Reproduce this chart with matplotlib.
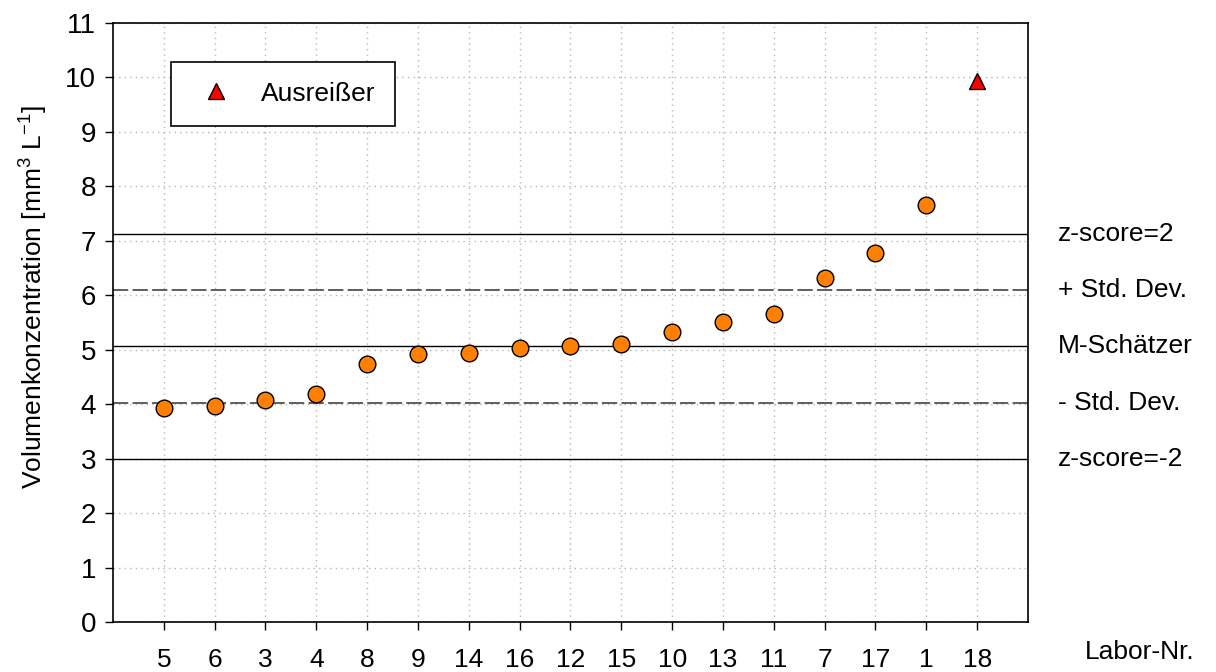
import matplotlib
matplotlib.use("Agg")
import matplotlib.pyplot as plt
from matplotlib.lines import Line2D

plt.rcParams['font.family'] = ['Liberation Sans', 'DejaVu Sans']
plt.rcParams['mathtext.fontset'] = 'custom'
plt.rcParams['mathtext.rm'] = 'Liberation Sans'
plt.rcParams['mathtext.it'] = 'Liberation Sans:italic'

# Labornummern, sortiert nach Messwert
labor_nr = ['5', '6', '3', '4', '8', '9', '14', '16', '12', '15', '10', '13', '11', '7', '17', '1', '18']
werte = [3.93, 3.97, 4.07, 4.18, 4.74, 4.93, 4.94, 5.04, 5.07, 5.10, 5.33, 5.50, 5.66, 6.31, 6.78, 7.66]
ausreisser = [9.93]

# Robuste Kennwerte
m_schaetzer = 5.06
std_dev = 1.03
ref_namen = ['z-score=2', '+ Std. Dev.', 'M-Schätzer', '- Std. Dev.', 'z-score=-2']
ref_faktor = [2, 1, 0, -1, -2]

fs = 19

fig = plt.figure(figsize=(12.16, 6.72), dpi=100)
ax = fig.add_axes([0.0929, 0.0744, 0.7525, 0.8914])

x = list(range(1, len(labor_nr) + 1))
n_ok = len(werte)

ax.set_xlim(0, len(labor_nr) + 1)
ax.set_ylim(0, 11)
ax.set_yticks(range(0, 12))
ax.set_xticks(x)
ax.set_xticklabels(labor_nr)
ax.tick_params(axis='both', direction='out', length=6, width=1, labelsize=fs, colors='black')
ax.tick_params(axis='x', pad=13)
ax.tick_params(axis='y', pad=6, labelsize=20)

ax.grid(True, linestyle=(0, (1, 3)), color='#b5b5b5', linewidth=1)
ax.set_axisbelow(True)
for s in ax.spines.values():
    s.set_linewidth(1.2)
    s.set_color('black')

# Referenzlinien
for name, f in zip(ref_namen, ref_faktor):
    yv = m_schaetzer + f * std_dev
    if f in (1, -1):
        ax.axhline(yv, color='#333333', linewidth=1.1, dashes=(10, 2.8), zorder=2)
    else:
        ax.axhline(yv, color='black', linewidth=1.0, zorder=2)
    ax.text(1.033, yv, name, transform=ax.get_yaxis_transform(), fontsize=fs,
            va='center', ha='left')

ax.plot(x[:n_ok], werte, linestyle='none', marker='o', markersize=12,
        markerfacecolor='#ff8000', markeredgecolor='black', markeredgewidth=1, zorder=4)
ax.plot(x[n_ok:], ausreisser, linestyle='none', marker='^', markersize=12,
        markerfacecolor='#ff0000', markeredgecolor='black', markeredgewidth=1, zorder=4)

ax.set_ylabel('Volumenkonzentration [mm$^{3}$ L$^{-1}$]', fontsize=fs)
ax.yaxis.set_label_coords(-0.069, 0.543)

ax.text(1.062, -0.05, 'Labor-Nr.', transform=ax.transAxes, fontsize=fs,
        va='center', ha='left')

handle = Line2D([], [], linestyle='none', marker='^', markersize=12,
                markerfacecolor='#ff0000', markeredgecolor='black', markeredgewidth=1)
leg = ax.legend([handle], ['Ausreißer'], loc='upper left', bbox_to_anchor=(0.0634, 0.935),
                fontsize=fs, frameon=True, fancybox=False, framealpha=1,
                edgecolor='black', borderpad=0.75, handlelength=1.9, handletextpad=0.75,
                borderaxespad=0)
leg.get_frame().set_linewidth(1.2)

fig.savefig('out.png', dpi=100)
